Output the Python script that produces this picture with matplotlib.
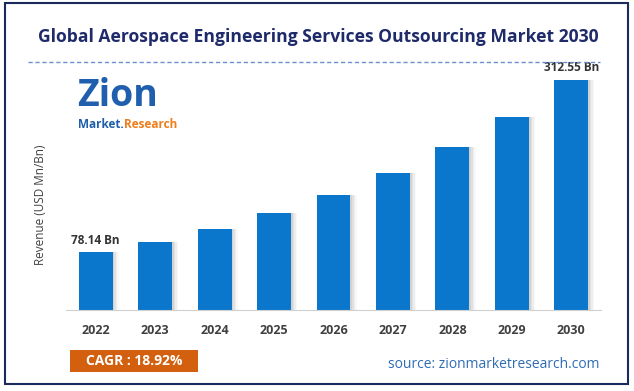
import matplotlib
matplotlib.use("Agg")
import matplotlib.pyplot as plt
from matplotlib.patches import Rectangle
from matplotlib.lines import Line2D

years = ["2022", "2023", "2024", "2025", "2026", "2027", "2028", "2029", "2030"]
revenue = [78.14, 92.9, 110.5, 131.4, 156.3, 185.9, 221.1, 262.9, 312.55]
labelled = {0: "78.14 Bn", 8: "312.55 Bn"}
title = "Global Aerospace Engineering Services Outsourcing Market 2030"
ylabel = "Revenue (USD Mn/Bn)"
cagr = "CAGR : 18.92%"
source = "source: zionmarketresearch.com"

FONT = ["Open Sans", "DejaVu Sans"]
plt.rcParams['font.family'] = FONT

fig = plt.figure(figsize=(6.34, 3.91), dpi=100)
W, H = 634, 391

def fx(px):
    return px / W

def fy(py):
    return 1 - py / H

# outer border
fig.add_artist(Rectangle((fx(5), fy(384)), fx(623), 381 / H, transform=fig.transFigure,
                         fill=False, edgecolor="#1b2a5c", linewidth=1.5))

# title
fig.text(fx(318), fy(37), title, ha="center", va="center", fontsize=12.6,
         fontweight="bold", color="#1f2a6b")
fig.add_artist(Line2D([fx(28), fx(600)], [fy(62), fy(62)], transform=fig.transFigure,
                      color="#6a8fd0", linewidth=1, linestyle=(0, (3, 2))))

ax = fig.add_axes([fx(66), fy(310), fx(535), 248 / H])
x = list(range(len(years)))
bw = 0.57
# shadows
for k, a in enumerate([0.10, 0.08, 0.06, 0.04]):
    ax.bar([i + 0.03 + 0.025 * k for i in x], revenue, width=bw, color="#555555",
           alpha=a, zorder=1)
ax.bar(x, revenue, width=bw, color="#0a76cc", zorder=2)
for i, t in labelled.items():
    ax.annotate(t, (i, revenue[i]), xytext=(0, 4), textcoords="offset points",
                ha="center", va="bottom", fontsize=8.5, fontweight="bold", color="#333333")
ax.set_xlim(-0.5, 8.5)
ax.set_ylim(0, 337)
ax.set_xticks(x)
ax.set_xticklabels(years, fontsize=9, fontweight="bold", color="#404040")
ax.tick_params(axis="x", length=0, pad=10)
ax.set_yticks([])
for s in ["top", "right", "left"]:
    ax.spines[s].set_visible(False)
ax.spines["bottom"].set_color("#d0d0d0")
ax.patch.set_alpha(0)

fig.text(fx(40), fy(205), ylabel, rotation=90, ha="center", va="center",
         fontsize=8.5, color="#404040")

# logo
fig.text(fx(77), fy(106), "Zion", ha="left", va="baseline", fontsize=27, fontweight="bold",
         color="#1f5fad")
fig.text(fx(124), fy(128), "Market.", ha="right", va="baseline", fontsize=8.5, fontweight="bold",
         color="#1f5fad")
fig.text(fx(124), fy(128), "Research", ha="left", va="baseline", fontsize=8.5, fontweight="bold",
         color="#ee7d1a")

# CAGR box
fig.add_artist(Rectangle((fx(70), fy(372)), fx(128), 22 / H, transform=fig.transFigure,
                         facecolor="#d2600e", edgecolor="none"))
fig.text(fx(134), fy(361), cagr, ha="center", va="center", fontsize=10,
         fontweight="bold", color="white")
fig.text(fx(600), fy(364), source, ha="right", va="center", fontsize=10, color="#2e6db4")

fig.savefig("out.png", dpi=100)
